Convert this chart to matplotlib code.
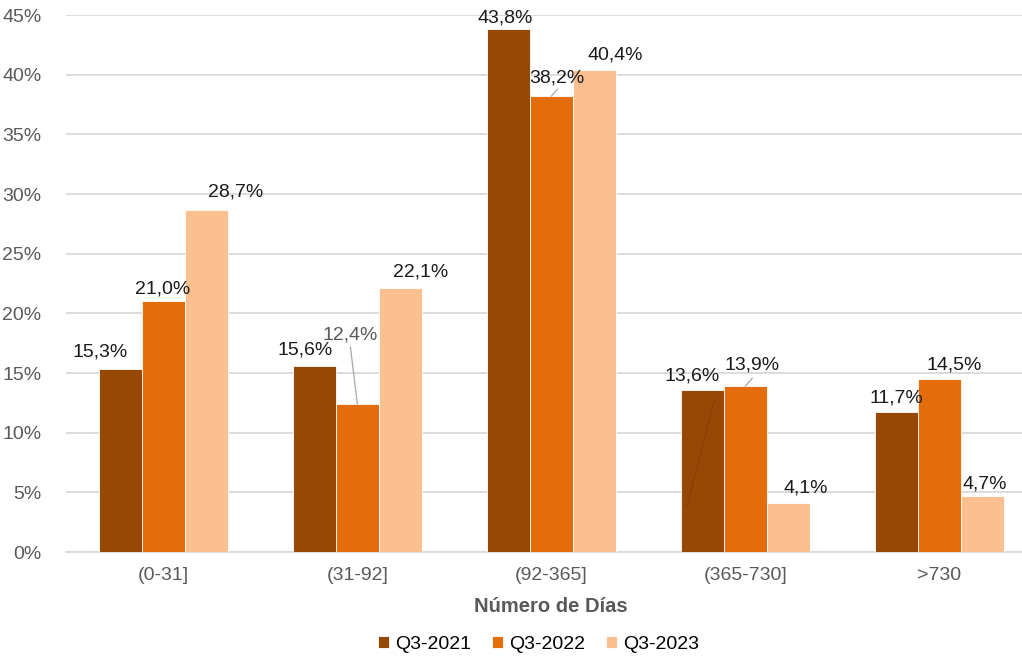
import numpy as np
import matplotlib.pyplot as plt

plt.rcParams['font.family'] = ['Liberation Sans', 'DejaVu Sans']

# data
categories = ["(0-31]", "(31-92]", "(92-365]", "(365-730]", ">730"]
series = ["Q3-2021", "Q3-2022", "Q3-2023"]
q3_2021 = [15.3, 15.6, 43.8, 13.6, 11.7]
q3_2022 = [21.0, 12.4, 38.2, 13.9, 14.5]
q3_2023 = [28.7, 22.1, 40.4, 4.1, 4.7]
values = [q3_2021, q3_2022, q3_2023]

colors = ["#974706", "#E46C0A", "#FAC090"]

# label offsets in pixels (dx, dy) from bar top centre, per series
label_offsets = [
    [(-20, 17), (-9, 16), (-3, 11), (-10, 14), (0, 14)],
    [(-1, 12), (-7, 69), (5, 18), (7, 21), (15, 14)],
    [(29, 18), (20, 16), (21, 15), (17, 15), (2, 12)],
]
# leader lines (series, category)
leaders = {(1, 1): (-7, 57), (1, 2): (6, 7), (1, 3): (7, 8)}

fig = plt.figure(figsize=(10.22, 6.56), dpi=100)
ax = fig.add_axes([0.065, 0.1585, 0.949, 0.8186])

x = np.arange(len(categories))
width = 0.222
for i, (vals, c) in enumerate(zip(values, colors)):
    pos = x + (i - 1) * width
    ax.bar(pos, vals, width, color=c, edgecolor="white", linewidth=0.6,
           label=series[i], zorder=3)
    for j, v in enumerate(vals):
        dx, dy = label_offsets[i][j]
        tc = "#595959" if (i, j) == (1, 1) else "#1a1a1a"
        ax.annotate(f"{v:.1f}%".replace(".", ","), (pos[j], v),
                    xytext=(dx, dy), textcoords="offset pixels",
                    ha="center", va="center", fontsize=14, color=tc, zorder=5)
        if (i, j) in leaders:
            lx, ly = leaders[(i, j)]
            ax.annotate("", (pos[j], v), xytext=(lx, ly), textcoords="offset pixels",
                        arrowprops=dict(arrowstyle="-", color="#a6a6a6", lw=0.9,
                                        shrinkA=0, shrinkB=0), zorder=4)

# faint line inside the (365-730] bar
ax.plot([3 - width - 0.08, 3 - width + 0.064], [3.8, 12.8], color="#5a2a00",
        lw=0.6, alpha=0.35, zorder=4)

ax.set_xlim(-0.5, 4.5)
ax.set_ylim(0, 45)
ax.set_yticks(np.arange(0, 46, 5))
ax.set_yticklabels([f"{t}%" for t in range(0, 46, 5)])
ax.set_xticks(x)
ax.set_xticklabels(categories)
ax.tick_params(axis="both", length=0, labelsize=14, labelcolor="#595959")
ax.tick_params(axis="y", pad=18)
ax.tick_params(axis="x", pad=11)
ax.grid(axis="y", color="#d9d9d9", linewidth=1.3, zorder=0)
for s in ["top", "right", "left"]:
    ax.spines[s].set_visible(False)
ax.spines["bottom"].set_color("#d9d9d9")
ax.spines["bottom"].set_linewidth(1.3)

fig.text(0.539, 0.076, "Número de Días", ha="center", va="center", fontsize=14.5,
         fontweight="bold", color="#595959")

fig.legend(loc="lower center", bbox_to_anchor=(0.527, -0.022), ncol=3, frameon=False,
           fontsize=14, handlelength=0.55, handleheight=0.55, handletextpad=0.3,
           columnspacing=1.1)

fig.savefig("out.png", dpi=100)
